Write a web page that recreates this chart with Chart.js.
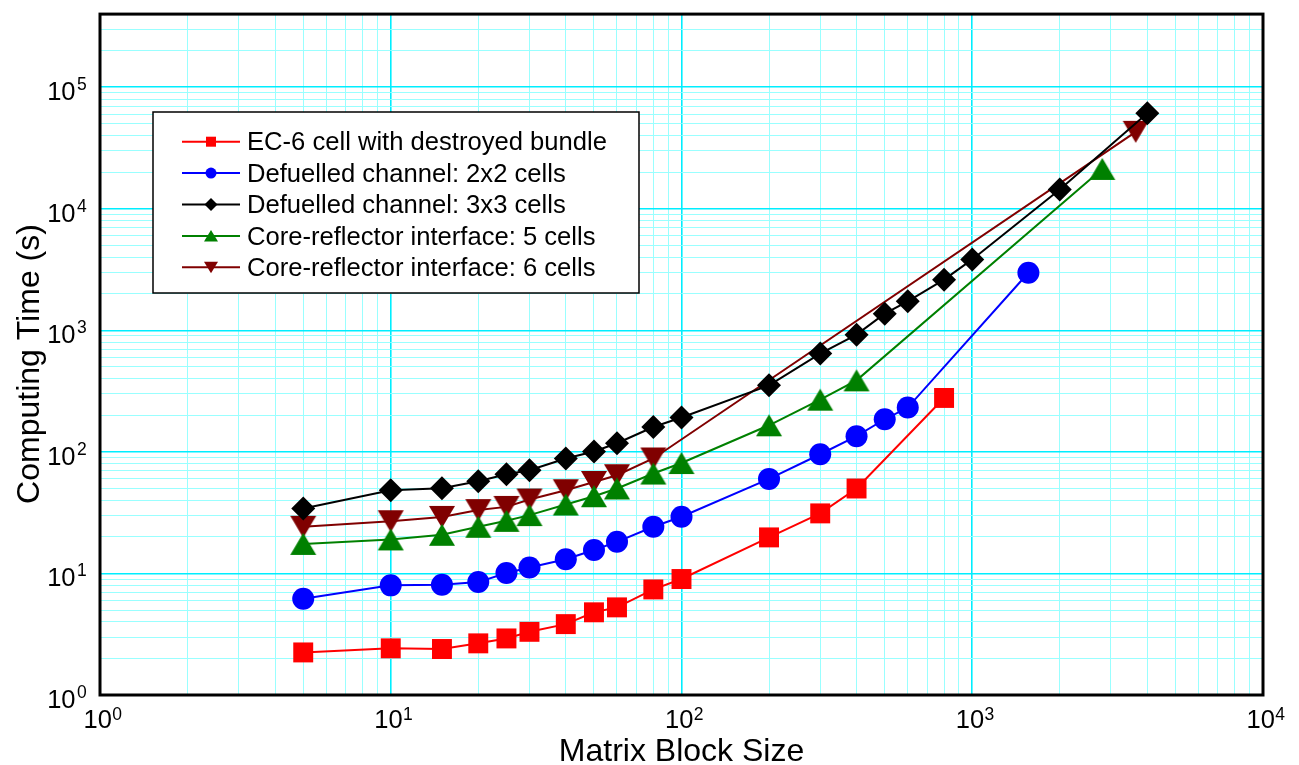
<!DOCTYPE html>
<html>
<head>
<meta charset="utf-8">
<script src="https://cdn.jsdelivr.net/npm/chart.js@4/dist/chart.umd.min.js"></script>
<style>
html,body{margin:0;padding:0;background:#fff;}
#wrap{width:1299px;height:765px;position:relative;}
</style>
</head>
<body>
<div id="wrap"><canvas id="c"></canvas></div>
<script>
// ---------------- DATA ----------------
const seriesLabels = [
  'EC-6 cell with destroyed bundle',
  'Defuelled channel: 2x2 cells',
  'Defuelled channel: 3x3 cells',
  'Core-reflector interface: 5 cells',
  'Core-reflector interface: 6 cells'
];
const seriesColors = ['#ff0000', '#0000ff', '#000000', '#008000', '#800000'];

const xRed = [5,10,15,20,25,30,40,50,60,80,100,200,300,400,800];
const yRed = [2.24,2.42,2.39,2.66,2.92,3.31,3.83,4.79,5.26,7.39,9.0,19.8,31.2,50.0,278];

const xBlue = [5,10,15,20,25,30,40,50,60,80,100,200,300,400,500,600,1560];
const yBlue = [6.19,7.98,8.07,8.49,10.1,11.2,13.1,15.6,18.2,24.2,29.3,60.0,95.7,134.6,185.6,231.7,2980];

const xBlack = [5,10,15,20,25,30,40,50,60,80,100,200,300,400,500,600,800,1000,2000,4000];
const yBlack = [34.2,48.4,50.3,57.4,65.6,70.7,88.3,100.8,117.8,160.4,191.7,353,644,922,1371,1732,2612,3835,14420,61100];

const xGreen = [5,10,15,20,25,30,40,50,60,80,100,200,300,400,2800];
const yGreen = [17.5,19.05,20.8,24.2,27.1,30.2,36.9,43.2,50.0,66.4,81,165.6,269,388,21300];

const xMaroon = [5,10,15,20,25,30,40,50,60,80,3650];
const yMaroon = [24.2,26.9,29.2,33.2,35.3,40.6,48.4,56.6,64.3,88.3,43000];

const xTitle = 'Matrix Block Size';
const yTitle = 'Computing Time (s)';

const xMajorTicks = [1,10,100,1000,10000];
const xTickExponents = ['0','1','2','3','4'];
const yMajorTicks = [1,10,100,1000,10000,100000];
const yTickExponents = ['0','1','2','3','4','5'];
const tickBase = '10';
const xMin = 1, xMax = 10000, yMin = 1, yMax = 400000;
const minorMultipliers = [2,3,4,5,6,7,8,9];

// -------------- helpers --------------
const FONT = "'Liberation Sans', Arial, Helvetica, sans-serif";
function gridValues(majors, max) {
  const out = [];
  majors.forEach(d => {
    out.push(d);
    minorMultipliers.forEach(m => { if (d * m <= max) out.push(d * m); });
  });
  return out.filter(v => v <= max);
}
const xGrid = gridValues(xMajorTicks, xMax);
const yGrid = gridValues(yMajorTicks, yMax);
function isMajor(v) { const l = Math.log10(v); return Math.abs(l - Math.round(l)) < 1e-9; }

function makeTriangle(w, h, color, down) {
  const c = document.createElement('canvas');
  c.width = w + 2; c.height = h + 2;
  const g = c.getContext('2d');
  g.fillStyle = color;
  g.beginPath();
  if (!down) {
    g.moveTo(1 + w / 2, 1); g.lineTo(1 + w, 1 + h); g.lineTo(1, 1 + h);
  } else {
    g.moveTo(1, 1); g.lineTo(1 + w, 1); g.lineTo(1 + w / 2, 1 + h);
  }
  g.closePath(); g.fill();
  return c;
}
const triUp = makeTriangle(26, 22, seriesColors[3], false);
const triDown = makeTriangle(26, 22, seriesColors[4], true);

function pts(xs, ys) { return xs.map((x, i) => ({x: x, y: ys[i]})); }

const datasets = [
  {label: seriesLabels[0], data: pts(xRed, yRed), borderColor: seriesColors[0], backgroundColor: seriesColors[0],
   pointStyle: 'rect', pointRadius: 14.1, pointBorderWidth: 0, borderWidth: 2},
  {label: seriesLabels[1], data: pts(xBlue, yBlue), borderColor: seriesColors[1], backgroundColor: seriesColors[1],
   pointStyle: 'circle', pointRadius: 11, pointBorderWidth: 0, borderWidth: 2},
  {label: seriesLabels[2], data: pts(xBlack, yBlack), borderColor: seriesColors[2], backgroundColor: seriesColors[2],
   pointStyle: 'rectRot', pointRadius: 12, pointBorderWidth: 0, borderWidth: 2},
  {label: seriesLabels[3], data: pts(xGreen, yGreen), borderColor: seriesColors[3], backgroundColor: seriesColors[3],
   pointStyle: triUp, pointRadius: 13, pointBorderWidth: 0, borderWidth: 2},
  {label: seriesLabels[4], data: pts(xMaroon, yMaroon), borderColor: seriesColors[4], backgroundColor: seriesColors[4],
   pointStyle: triDown, pointRadius: 13, pointBorderWidth: 0, borderWidth: 2}
];

function legendMarker(ctx, i, x, y) {
  ctx.fillStyle = seriesColors[i];
  ctx.beginPath();
  if (i === 0) { ctx.rect(x - 5, y - 5, 10, 10); }
  else if (i === 1) { ctx.arc(x, y, 5.5, 0, Math.PI * 2); }
  else if (i === 2) { ctx.moveTo(x - 6.5, y); ctx.lineTo(x, y - 6.5); ctx.lineTo(x + 6.5, y); ctx.lineTo(x, y + 6.5); }
  else if (i === 3) { ctx.moveTo(x, y - 6); ctx.lineTo(x + 7, y + 5.5); ctx.lineTo(x - 7, y + 5.5); }
  else { ctx.moveTo(x - 7, y - 5.5); ctx.lineTo(x + 7, y - 5.5); ctx.lineTo(x, y + 6); }
  ctx.closePath(); ctx.fill();
}

const decor = {
  id: 'decor',
  beforeDraw(chart) {
    const ctx = chart.ctx;
    ctx.save(); ctx.fillStyle = '#fff'; ctx.fillRect(0, 0, chart.width, chart.height); ctx.restore();
  },
  afterDraw(chart) {
    const ctx = chart.ctx;
    const a = chart.chartArea;
    const xs = chart.scales.x, ys = chart.scales.y;
    ctx.save();
    // plot frame
    ctx.strokeStyle = '#000'; ctx.lineWidth = 3;
    ctx.strokeRect(a.left, a.top, a.right - a.left, a.bottom - a.top);

    // y tick labels
    ctx.fillStyle = '#000';
    yMajorTicks.forEach((v, i) => {
      const py = ys.getPixelForValue(v);
      ctx.font = '25.5px ' + FONT; ctx.textAlign = 'right'; ctx.textBaseline = 'alphabetic';
      ctx.fillText(tickBase, 75.5, py + 12.8);
      ctx.font = '17.5px ' + FONT; ctx.textAlign = 'left';
      ctx.fillText(yTickExponents[i], 77, py + 2.7);
    });
    // x tick labels
    xMajorTicks.forEach((v, i) => {
      const px = xs.getPixelForValue(v);
      ctx.font = '25.5px ' + FONT; ctx.textAlign = 'left'; ctx.textBaseline = 'alphabetic';
      const start = px - 16.5;
      ctx.fillText(tickBase, start, a.bottom + 33);
      const w = ctx.measureText(tickBase).width;
      ctx.font = '17.5px ' + FONT;
      ctx.fillText(xTickExponents[i], start + w + 0.5, a.bottom + 25);
    });
    // axis titles
    ctx.font = '32px ' + FONT;
    ctx.textAlign = 'center'; ctx.textBaseline = 'alphabetic';
    ctx.fillText(xTitle, (a.left + a.right) / 2, 761);
    ctx.save();
    ctx.translate(38.5, 364);
    ctx.rotate(-Math.PI / 2);
    ctx.fillText(yTitle, 0, 0);
    ctx.restore();

    // legend
    const lx = 153, ly = 112, lw = 486, lh = 181;
    ctx.fillStyle = '#fff'; ctx.fillRect(lx, ly, lw, lh);
    ctx.strokeStyle = '#000'; ctx.lineWidth = 1.5; ctx.strokeRect(lx, ly, lw, lh);
    seriesLabels.forEach((lab, i) => {
      const ry = 141.7 + i * 31.4;
      ctx.strokeStyle = seriesColors[i]; ctx.lineWidth = 2;
      ctx.beginPath(); ctx.moveTo(182, ry); ctx.lineTo(240, ry); ctx.stroke();
      legendMarker(ctx, i, 211, ry);
      ctx.fillStyle = '#000';
      ctx.font = '25.6px ' + FONT; ctx.textAlign = 'left'; ctx.textBaseline = 'alphabetic';
      ctx.fillText(lab, 247, ry + 8.7);
    });
    ctx.restore();
  }
};

function gridColor(c) {
  if (!c.tick) return 'rgba(0,0,0,0)';
  return isMajor(c.tick.value) ? '#00eeff' : '#99ffff';
}
function gridWidth(c) {
  if (!c.tick) return 0;
  return isMajor(c.tick.value) ? 1.6 : 1;
}

new Chart(document.getElementById('c'), {
  type: 'line',
  data: {datasets: datasets},
  options: {
    responsive: true,
    maintainAspectRatio: false,
    animation: false,
    layout: {padding: {top: 13, right: 36, left: 0, bottom: 0}},
    elements: {line: {tension: 0}},
    plugins: {legend: {display: false}, tooltip: {enabled: false}},
    scales: {
      x: {
        type: 'logarithmic', min: xMin, max: xMax, position: 'bottom',
        afterBuildTicks: s => { s.ticks = xGrid.map(v => ({value: v})); },
        afterFit: s => { s.height = 70; },
        ticks: {display: false},
        grid: {color: gridColor, lineWidth: gridWidth, drawTicks: false},
        border: {display: false}
      },
      y: {
        type: 'logarithmic', min: yMin, max: yMax, position: 'left',
        afterBuildTicks: s => { s.ticks = yGrid.map(v => ({value: v})); },
        afterFit: s => { s.width = 100; },
        ticks: {display: false},
        grid: {color: gridColor, lineWidth: gridWidth, drawTicks: false},
        border: {display: false}
      }
    }
  },
  plugins: [decor]
});
</script>
</body>
</html>
